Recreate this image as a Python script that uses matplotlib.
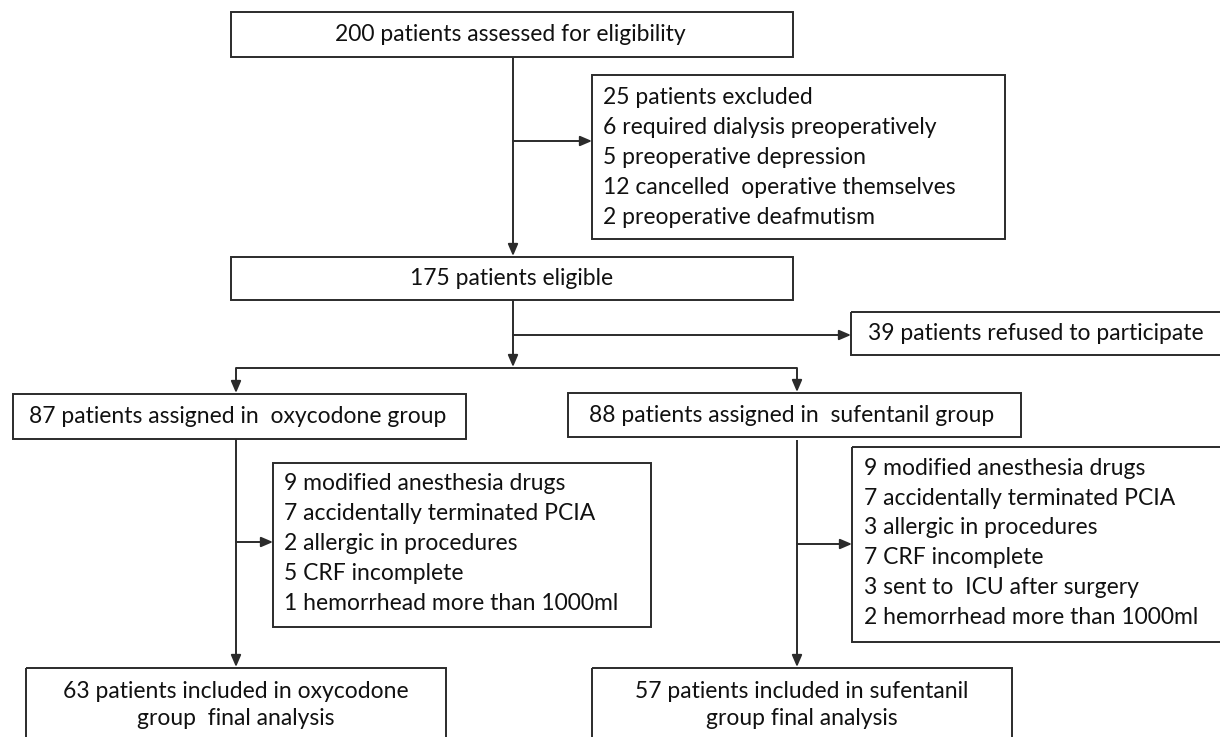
import matplotlib
matplotlib.use("Agg")
import matplotlib.pyplot as plt
from matplotlib.patches import Rectangle

plt.rcParams['font.family'] = ['Lato', 'DejaVu Sans']

# flow counts / texts
screened = "200 patients assessed for eligibility"
excluded = ["25 patients excluded",
            "6 required dialysis preoperatively",
            "5 preoperative depression",
            "12 cancelled  operative themselves",
            "2 preoperative deafmutism"]
eligible = "175 patients eligible"
refused = "39 patients refused to participate"
arm_labels = ["87 patients assigned in  oxycodone group",
              "88 patients assigned in  sufentanil group"]
oxy_lost = ["9 modified anesthesia drugs",
            "7 accidentally terminated PCIA",
            "2 allergic in procedures",
            "5 CRF incomplete",
            "1 hemorrhead more than 1000ml"]
suf_lost = ["9 modified anesthesia drugs",
            "7 accidentally terminated PCIA",
            "3 allergic in procedures",
            "7 CRF incomplete",
            "3 sent to  ICU after surgery",
            "2 hemorrhead more than 1000ml"]
final_labels = ["63 patients included in oxycodone\ngroup  final analysis",
                "57 patients included in sufentanil\ngroup final analysis"]

W, H = 1220, 737
fig = plt.figure(figsize=(W / 100, H / 100), dpi=100)
ax = fig.add_axes([0, 0, 1, 1])
ax.set_xlim(0, W)
ax.set_ylim(H, 0)
ax.axis("off")

LC = "#2b2b2b"
TC = "#111111"
FS = 16.5
LW = 1.4


def box(x0, y0, x1, y1):
    ax.add_patch(Rectangle((x0, y0), x1 - x0, y1 - y0, fill=False,
                           edgecolor=LC, linewidth=LW, clip_on=False))


def line(xs, ys):
    ax.plot(xs, ys, color=LC, linewidth=LW, solid_capstyle="butt")


def arrow(x0, y0, x1, y1):
    ax.annotate("", xy=(x1, y1), xytext=(x0, y0),
                arrowprops=dict(arrowstyle="-|>,head_length=0.7,head_width=0.3",
                                color=LC, linewidth=LW, shrinkA=0, shrinkB=0))


def lines_text(x, y_first, step, items):
    for i, s in enumerate(items):
        ax.text(x, y_first + i * step, s, fontsize=FS, color=TC,
                ha="left", va="center")


# top box
box(231, 12, 793, 57)
ax.text(510, 34, screened, fontsize=FS, ha="center", va="center", color=TC)
line([513, 513], [57, 141])
arrow(513, 141, 592, 141)
arrow(513, 141, 513, 256)

# excluded box
box(592, 75, 1005, 239)
lines_text(603, 97, 30, excluded)

# eligible box
box(231, 257, 793, 300)
ax.text(512, 278, eligible, fontsize=FS, ha="center", va="center", color=TC)
line([513, 513], [300, 335])
arrow(513, 335, 851, 335)
arrow(513, 335, 513, 367)

# refused box
box(851, 312, 1230, 355)
ax.text(868, 333, refused, fontsize=FS, ha="left", va="center", color=TC)

# split
line([236, 797], [368, 368])
arrow(236, 368, 236, 393)
arrow(797, 368, 797, 392)

# arm boxes
box(13, 394, 466, 439)
ax.text(29, 416, arm_labels[0], fontsize=FS, ha="left", va="center", color=TC)
box(568, 393, 1021, 437)
ax.text(589, 415, arm_labels[1], fontsize=FS, ha="left", va="center", color=TC)

# oxycodone arm
line([236, 236], [439, 542])
arrow(236, 542, 273, 542)
arrow(236, 542, 236, 667)
box(273, 463, 651, 627)
lines_text(284, 483, 30, oxy_lost)

# sufentanil arm
line([797, 797], [440, 544])
arrow(797, 544, 852, 544)
arrow(797, 544, 797, 667)
box(852, 447, 1230, 642)
lines_text(864, 468, 30, suf_lost)

# final boxes
box(26, 668, 446, 760)
ax.text(236, 705, final_labels[0], fontsize=FS, ha="center", va="center",
        color=TC, linespacing=1.4)
box(592, 668, 1012, 760)
ax.text(802, 705, final_labels[1], fontsize=FS, ha="center", va="center",
        color=TC, linespacing=1.4)

fig.savefig("out.png", dpi=100)
